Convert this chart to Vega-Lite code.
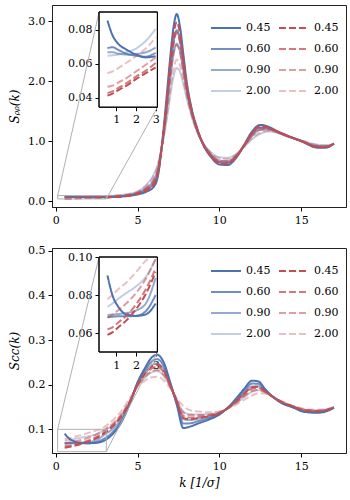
{
"$schema":"https://vega.github.io/schema/vega-lite/v6.json",
"padding":{"left":8,"top":4,"right":4,"bottom":4},
"config":{
 "font":"DejaVu Serif",
 "view":{"stroke":"#222","strokeWidth":1},
 "axis":{"grid":false,"labelFont":"DejaVu Serif","labelFontSize":11,"labelColor":"#000","tickColor":"#000","domainColor":"#222","tickSize":4,"labelPadding":3,"titleFont":"DejaVu Serif","titleFontSize":12,"titleFontWeight":"normal","titleColor":"#000","titleFontStyle":"italic"},
 "legend":{"labelFont":"DejaVu Serif","labelFontSize":11,"labelColor":"#000","symbolStrokeWidth":2,"symbolSize":900,"columnPadding":4,"rowPadding":0,"labelOffset":4,"symbolType":"stroke","padding":0}
},
"datasets":{
"rho":[
{"k":0.55,"v":0.0855,"s":"b0.45"},{"k":0.8,"v":0.077,"s":"b0.45"},{"k":1.1,"v":0.0718,"s":"b0.45"},{"k":1.5,"v":0.0685,"s":"b0.45"},{"k":2,"v":0.0655,"s":"b0.45"},{"k":2.5,"v":0.0638,"s":"b0.45"},{"k":3,"v":0.0645,"s":"b0.45"},{"k":3.5,"v":0.068,"s":"b0.45"},{"k":4,"v":0.075,"s":"b0.45"},{"k":4.5,"v":0.088,"s":"b0.45"},{"k":5,"v":0.11,"s":"b0.45"},{"k":5.5,"v":0.15,"s":"b0.45"},{"k":6,"v":0.24,"s":"b0.45"},{"k":6.25,"v":0.42,"s":"b0.45"},{"k":6.5,"v":0.95,"s":"b0.45"},{"k":6.75,"v":1.65,"s":"b0.45"},{"k":7,"v":2.4,"s":"b0.45"},{"k":7.2,"v":2.9,"s":"b0.45"},{"k":7.4,"v":3.12,"s":"b0.45"},{"k":7.6,"v":2.9,"s":"b0.45"},{"k":7.8,"v":2.45,"s":"b0.45"},{"k":8,"v":2.0,"s":"b0.45"},{"k":8.3,"v":1.55,"s":"b0.45"},{"k":8.6,"v":1.25,"s":"b0.45"},{"k":9,"v":0.95,"s":"b0.45"},{"k":9.5,"v":0.73,"s":"b0.45"},{"k":10,"v":0.61,"s":"b0.45"},{"k":10.5,"v":0.6,"s":"b0.45"},{"k":11,"v":0.71,"s":"b0.45"},{"k":11.5,"v":0.93,"s":"b0.45"},{"k":12,"v":1.16,"s":"b0.45"},{"k":12.5,"v":1.27,"s":"b0.45"},{"k":13,"v":1.24,"s":"b0.45"},{"k":13.5,"v":1.17,"s":"b0.45"},{"k":14,"v":1.11,"s":"b0.45"},{"k":15,"v":1.0,"s":"b0.45"},{"k":16,"v":0.89,"s":"b0.45"},{"k":16.5,"v":0.89,"s":"b0.45"},{"k":17,"v":0.96,"s":"b0.45"},
{"k":0.55,"v":0.0692,"s":"b0.60"},{"k":0.8,"v":0.0698,"s":"b0.60"},{"k":1.1,"v":0.0682,"s":"b0.60"},{"k":1.5,"v":0.066,"s":"b0.60"},{"k":2,"v":0.0648,"s":"b0.60"},{"k":2.5,"v":0.0642,"s":"b0.60"},{"k":3,"v":0.0665,"s":"b0.60"},{"k":3.5,"v":0.072,"s":"b0.60"},{"k":4,"v":0.08,"s":"b0.60"},{"k":4.5,"v":0.095,"s":"b0.60"},{"k":5,"v":0.125,"s":"b0.60"},{"k":5.5,"v":0.183,"s":"b0.60"},{"k":6,"v":0.303,"s":"b0.60"},{"k":6.25,"v":0.48,"s":"b0.60"},{"k":6.5,"v":0.94,"s":"b0.60"},{"k":6.75,"v":1.545,"s":"b0.60"},{"k":7,"v":2.205,"s":"b0.60"},{"k":7.2,"v":2.65,"s":"b0.60"},{"k":7.4,"v":2.85,"s":"b0.60"},{"k":7.6,"v":2.675,"s":"b0.60"},{"k":7.8,"v":2.3,"s":"b0.60"},{"k":8,"v":1.916,"s":"b0.60"},{"k":8.3,"v":1.51,"s":"b0.60"},{"k":8.6,"v":1.23,"s":"b0.60"},{"k":9,"v":0.956,"s":"b0.60"},{"k":9.5,"v":0.754,"s":"b0.60"},{"k":10,"v":0.646,"s":"b0.60"},{"k":10.5,"v":0.636,"s":"b0.60"},{"k":11,"v":0.731,"s":"b0.60"},{"k":11.5,"v":0.921,"s":"b0.60"},{"k":12,"v":1.121,"s":"b0.60"},{"k":12.5,"v":1.225,"s":"b0.60"},{"k":13,"v":1.216,"s":"b0.60"},{"k":13.5,"v":1.161,"s":"b0.60"},{"k":14,"v":1.104,"s":"b0.60"},{"k":15,"v":1.0,"s":"b0.60"},{"k":16,"v":0.905,"s":"b0.60"},{"k":16.5,"v":0.902,"s":"b0.60"},{"k":17,"v":0.957,"s":"b0.60"},
{"k":0.55,"v":0.0668,"s":"b0.90"},{"k":0.8,"v":0.0668,"s":"b0.90"},{"k":1.1,"v":0.066,"s":"b0.90"},{"k":1.5,"v":0.0655,"s":"b0.90"},{"k":2,"v":0.0658,"s":"b0.90"},{"k":2.5,"v":0.0668,"s":"b0.90"},{"k":3,"v":0.0695,"s":"b0.90"},{"k":3.5,"v":0.075,"s":"b0.90"},{"k":4,"v":0.085,"s":"b0.90"},{"k":4.5,"v":0.102,"s":"b0.90"},{"k":5,"v":0.137,"s":"b0.90"},{"k":5.5,"v":0.21,"s":"b0.90"},{"k":6,"v":0.356,"s":"b0.90"},{"k":6.25,"v":0.53,"s":"b0.90"},{"k":6.5,"v":0.935,"s":"b0.90"},{"k":6.75,"v":1.457,"s":"b0.90"},{"k":7,"v":2.04,"s":"b0.90"},{"k":7.2,"v":2.45,"s":"b0.90"},{"k":7.4,"v":2.625,"s":"b0.90"},{"k":7.6,"v":2.49,"s":"b0.90"},{"k":7.8,"v":2.175,"s":"b0.90"},{"k":8,"v":1.846,"s":"b0.90"},{"k":8.3,"v":1.48,"s":"b0.90"},{"k":8.6,"v":1.21,"s":"b0.90"},{"k":9,"v":0.961,"s":"b0.90"},{"k":9.5,"v":0.774,"s":"b0.90"},{"k":10,"v":0.676,"s":"b0.90"},{"k":10.5,"v":0.666,"s":"b0.90"},{"k":11,"v":0.749,"s":"b0.90"},{"k":11.5,"v":0.913,"s":"b0.90"},{"k":12,"v":1.088,"s":"b0.90"},{"k":12.5,"v":1.188,"s":"b0.90"},{"k":13,"v":1.196,"s":"b0.90"},{"k":13.5,"v":1.154,"s":"b0.90"},{"k":14,"v":1.099,"s":"b0.90"},{"k":15,"v":1.005,"s":"b0.90"},{"k":16,"v":0.918,"s":"b0.90"},{"k":16.5,"v":0.912,"s":"b0.90"},{"k":17,"v":0.955,"s":"b0.90"},
{"k":0.55,"v":0.0648,"s":"b2.00"},{"k":0.8,"v":0.065,"s":"b2.00"},{"k":1.1,"v":0.0655,"s":"b2.00"},{"k":1.5,"v":0.0668,"s":"b2.00"},{"k":2,"v":0.069,"s":"b2.00"},{"k":2.5,"v":0.0735,"s":"b2.00"},{"k":3,"v":0.0805,"s":"b2.00"},{"k":3.5,"v":0.088,"s":"b2.00"},{"k":4,"v":0.1,"s":"b2.00"},{"k":4.5,"v":0.12,"s":"b2.00"},{"k":5,"v":0.16,"s":"b2.00"},{"k":5.5,"v":0.26,"s":"b2.00"},{"k":6,"v":0.45,"s":"b2.00"},{"k":6.25,"v":0.62,"s":"b2.00"},{"k":6.5,"v":0.92,"s":"b2.00"},{"k":6.75,"v":1.3,"s":"b2.00"},{"k":7,"v":1.75,"s":"b2.00"},{"k":7.2,"v":2.08,"s":"b2.00"},{"k":7.4,"v":2.22,"s":"b2.00"},{"k":7.6,"v":2.15,"s":"b2.00"},{"k":7.8,"v":1.95,"s":"b2.00"},{"k":8,"v":1.72,"s":"b2.00"},{"k":8.3,"v":1.42,"s":"b2.00"},{"k":8.6,"v":1.18,"s":"b2.00"},{"k":9,"v":0.97,"s":"b2.00"},{"k":9.5,"v":0.81,"s":"b2.00"},{"k":10,"v":0.73,"s":"b2.00"},{"k":10.5,"v":0.72,"s":"b2.00"},{"k":11,"v":0.78,"s":"b2.00"},{"k":11.5,"v":0.9,"s":"b2.00"},{"k":12,"v":1.03,"s":"b2.00"},{"k":12.5,"v":1.12,"s":"b2.00"},{"k":13,"v":1.16,"s":"b2.00"},{"k":13.5,"v":1.14,"s":"b2.00"},{"k":14,"v":1.09,"s":"b2.00"},{"k":15,"v":1.01,"s":"b2.00"},{"k":16,"v":0.94,"s":"b2.00"},{"k":16.5,"v":0.93,"s":"b2.00"},{"k":17,"v":0.95,"s":"b2.00"},
{"k":0.55,"v":0.0413,"s":"r0.45"},{"k":0.8,"v":0.0425,"s":"r0.45"},{"k":1.1,"v":0.0445,"s":"r0.45"},{"k":1.5,"v":0.047,"s":"r0.45"},{"k":2,"v":0.051,"s":"r0.45"},{"k":2.5,"v":0.0545,"s":"r0.45"},{"k":3,"v":0.0578,"s":"r0.45"},{"k":3.5,"v":0.065,"s":"r0.45"},{"k":4,"v":0.073,"s":"r0.45"},{"k":4.5,"v":0.087,"s":"r0.45"},{"k":5,"v":0.118,"s":"r0.45"},{"k":5.5,"v":0.167,"s":"r0.45"},{"k":6,"v":0.27,"s":"r0.45"},{"k":6.25,"v":0.45,"s":"r0.45"},{"k":6.5,"v":0.945,"s":"r0.45"},{"k":6.75,"v":1.598,"s":"r0.45"},{"k":7,"v":2.3,"s":"r0.45"},{"k":7.2,"v":2.78,"s":"r0.45"},{"k":7.4,"v":2.985,"s":"r0.45"},{"k":7.6,"v":2.79,"s":"r0.45"},{"k":7.8,"v":2.375,"s":"r0.45"},{"k":8,"v":1.958,"s":"r0.45"},{"k":8.3,"v":1.53,"s":"r0.45"},{"k":8.6,"v":1.24,"s":"r0.45"},{"k":9,"v":0.953,"s":"r0.45"},{"k":9.5,"v":0.742,"s":"r0.45"},{"k":10,"v":0.628,"s":"r0.45"},{"k":10.5,"v":0.618,"s":"r0.45"},{"k":11,"v":0.72,"s":"r0.45"},{"k":11.5,"v":0.925,"s":"r0.45"},{"k":12,"v":1.14,"s":"r0.45"},{"k":12.5,"v":1.248,"s":"r0.45"},{"k":13,"v":1.228,"s":"r0.45"},{"k":13.5,"v":1.166,"s":"r0.45"},{"k":14,"v":1.107,"s":"r0.45"},{"k":15,"v":1.0,"s":"r0.45"},{"k":16,"v":0.898,"s":"r0.45"},{"k":16.5,"v":0.896,"s":"r0.45"},{"k":17,"v":0.96,"s":"r0.45"},
{"k":0.55,"v":0.0428,"s":"r0.60"},{"k":0.8,"v":0.0438,"s":"r0.60"},{"k":1.1,"v":0.0458,"s":"r0.60"},{"k":1.5,"v":0.0485,"s":"r0.60"},{"k":2,"v":0.0525,"s":"r0.60"},{"k":2.5,"v":0.056,"s":"r0.60"},{"k":3,"v":0.0605,"s":"r0.60"},{"k":3.5,"v":0.067,"s":"r0.60"},{"k":4,"v":0.076,"s":"r0.60"},{"k":4.5,"v":0.092,"s":"r0.60"},{"k":5,"v":0.128,"s":"r0.60"},{"k":5.5,"v":0.19,"s":"r0.60"},{"k":6,"v":0.31,"s":"r0.60"},{"k":6.25,"v":0.49,"s":"r0.60"},{"k":6.5,"v":0.94,"s":"r0.60"},{"k":6.75,"v":1.528,"s":"r0.60"},{"k":7,"v":2.17,"s":"r0.60"},{"k":7.2,"v":2.61,"s":"r0.60"},{"k":7.4,"v":2.805,"s":"r0.60"},{"k":7.6,"v":2.64,"s":"r0.60"},{"k":7.8,"v":2.275,"s":"r0.60"},{"k":8,"v":1.902,"s":"r0.60"},{"k":8.3,"v":1.505,"s":"r0.60"},{"k":8.6,"v":1.225,"s":"r0.60"},{"k":9,"v":0.957,"s":"r0.60"},{"k":9.5,"v":0.758,"s":"r0.60"},{"k":10,"v":0.652,"s":"r0.60"},{"k":10.5,"v":0.642,"s":"r0.60"},{"k":11,"v":0.735,"s":"r0.60"},{"k":11.5,"v":0.92,"s":"r0.60"},{"k":12,"v":1.115,"s":"r0.60"},{"k":12.5,"v":1.218,"s":"r0.60"},{"k":13,"v":1.212,"s":"r0.60"},{"k":13.5,"v":1.16,"s":"r0.60"},{"k":14,"v":1.103,"s":"r0.60"},{"k":15,"v":1.0,"s":"r0.60"},{"k":16,"v":0.908,"s":"r0.60"},{"k":16.5,"v":0.904,"s":"r0.60"},{"k":17,"v":0.957,"s":"r0.60"},
{"k":0.55,"v":0.0465,"s":"r0.90"},{"k":0.8,"v":0.0472,"s":"r0.90"},{"k":1.1,"v":0.049,"s":"r0.90"},{"k":1.5,"v":0.0515,"s":"r0.90"},{"k":2,"v":0.0555,"s":"r0.90"},{"k":2.5,"v":0.0595,"s":"r0.90"},{"k":3,"v":0.0638,"s":"r0.90"},{"k":3.5,"v":0.071,"s":"r0.90"},{"k":4,"v":0.082,"s":"r0.90"},{"k":4.5,"v":0.1,"s":"r0.90"},{"k":5,"v":0.137,"s":"r0.90"},{"k":5.5,"v":0.21,"s":"r0.90"},{"k":6,"v":0.356,"s":"r0.90"},{"k":6.25,"v":0.53,"s":"r0.90"},{"k":6.5,"v":0.935,"s":"r0.90"},{"k":6.75,"v":1.46,"s":"r0.90"},{"k":7,"v":2.06,"s":"r0.90"},{"k":7.2,"v":2.47,"s":"r0.90"},{"k":7.4,"v":2.6,"s":"r0.90"},{"k":7.6,"v":2.47,"s":"r0.90"},{"k":7.8,"v":2.16,"s":"r0.90"},{"k":8,"v":1.84,"s":"r0.90"},{"k":8.3,"v":1.475,"s":"r0.90"},{"k":8.6,"v":1.21,"s":"r0.90"},{"k":9,"v":0.96,"s":"r0.90"},{"k":9.5,"v":0.77,"s":"r0.90"},{"k":10,"v":0.672,"s":"r0.90"},{"k":10.5,"v":0.663,"s":"r0.90"},{"k":11,"v":0.745,"s":"r0.90"},{"k":11.5,"v":0.912,"s":"r0.90"},{"k":12,"v":1.09,"s":"r0.90"},{"k":12.5,"v":1.19,"s":"r0.90"},{"k":13,"v":1.195,"s":"r0.90"},{"k":13.5,"v":1.155,"s":"r0.90"},{"k":14,"v":1.1,"s":"r0.90"},{"k":15,"v":1.002,"s":"r0.90"},{"k":16,"v":0.91,"s":"r0.90"},{"k":16.5,"v":0.905,"s":"r0.90"},{"k":17,"v":0.95,"s":"r0.90"},
{"k":0.55,"v":0.0545,"s":"r2.00"},{"k":0.8,"v":0.0555,"s":"r2.00"},{"k":1.1,"v":0.0575,"s":"r2.00"},{"k":1.5,"v":0.0605,"s":"r2.00"},{"k":2,"v":0.0645,"s":"r2.00"},{"k":2.5,"v":0.069,"s":"r2.00"},{"k":3,"v":0.0755,"s":"r2.00"},{"k":3.5,"v":0.085,"s":"r2.00"},{"k":4,"v":0.097,"s":"r2.00"},{"k":4.5,"v":0.116,"s":"r2.00"},{"k":5,"v":0.152,"s":"r2.00"},{"k":5.5,"v":0.243,"s":"r2.00"},{"k":6,"v":0.42,"s":"r2.00"},{"k":6.25,"v":0.59,"s":"r2.00"},{"k":6.5,"v":0.925,"s":"r2.00"},{"k":6.75,"v":1.35,"s":"r2.00"},{"k":7,"v":1.85,"s":"r2.00"},{"k":7.2,"v":2.2,"s":"r2.00"},{"k":7.4,"v":2.355,"s":"r2.00"},{"k":7.6,"v":2.26,"s":"r2.00"},{"k":7.8,"v":2.025,"s":"r2.00"},{"k":8,"v":1.762,"s":"r2.00"},{"k":8.3,"v":1.44,"s":"r2.00"},{"k":8.6,"v":1.19,"s":"r2.00"},{"k":9,"v":0.967,"s":"r2.00"},{"k":9.5,"v":0.798,"s":"r2.00"},{"k":10,"v":0.712,"s":"r2.00"},{"k":10.5,"v":0.702,"s":"r2.00"},{"k":11,"v":0.77,"s":"r2.00"},{"k":11.5,"v":0.905,"s":"r2.00"},{"k":12,"v":1.05,"s":"r2.00"},{"k":12.5,"v":1.143,"s":"r2.00"},{"k":13,"v":1.172,"s":"r2.00"},{"k":13.5,"v":1.145,"s":"r2.00"},{"k":14,"v":1.093,"s":"r2.00"},{"k":15,"v":1.008,"s":"r2.00"},{"k":16,"v":0.933,"s":"r2.00"},{"k":16.5,"v":0.924,"s":"r2.00"},{"k":17,"v":0.952,"s":"r2.00"}
],
"cc":[
{"k":0.55,"v":0.0903,"s":"b0.45"},{"k":0.8,"v":0.08,"s":"b0.45"},{"k":1.1,"v":0.0738,"s":"b0.45"},{"k":1.5,"v":0.0698,"s":"b0.45"},{"k":2,"v":0.069,"s":"b0.45"},{"k":2.5,"v":0.0698,"s":"b0.45"},{"k":3,"v":0.0755,"s":"b0.45"},{"k":3.5,"v":0.09,"s":"b0.45"},{"k":4,"v":0.115,"s":"b0.45"},{"k":4.5,"v":0.155,"s":"b0.45"},{"k":5,"v":0.205,"s":"b0.45"},{"k":5.5,"v":0.24,"s":"b0.45"},{"k":5.8,"v":0.258,"s":"b0.45"},{"k":6.2,"v":0.267,"s":"b0.45"},{"k":6.6,"v":0.25,"s":"b0.45"},{"k":7,"v":0.205,"s":"b0.45"},{"k":7.4,"v":0.155,"s":"b0.45"},{"k":7.8,"v":0.103,"s":"b0.45"},{"k":8.2,"v":0.106,"s":"b0.45"},{"k":8.7,"v":0.113,"s":"b0.45"},{"k":9.3,"v":0.121,"s":"b0.45"},{"k":10,"v":0.133,"s":"b0.45"},{"k":10.5,"v":0.148,"s":"b0.45"},{"k":11,"v":0.168,"s":"b0.45"},{"k":11.5,"v":0.19,"s":"b0.45"},{"k":12,"v":0.209,"s":"b0.45"},{"k":12.4,"v":0.207,"s":"b0.45"},{"k":12.8,"v":0.19,"s":"b0.45"},{"k":13.3,"v":0.172,"s":"b0.45"},{"k":13.8,"v":0.159,"s":"b0.45"},{"k":14.5,"v":0.149,"s":"b0.45"},{"k":15.2,"v":0.139,"s":"b0.45"},{"k":16,"v":0.137,"s":"b0.45"},{"k":16.5,"v":0.14,"s":"b0.45"},{"k":17,"v":0.148,"s":"b0.45"},
{"k":0.55,"v":0.0684,"s":"b0.60"},{"k":0.8,"v":0.0686,"s":"b0.60"},{"k":1.1,"v":0.0688,"s":"b0.60"},{"k":1.5,"v":0.0688,"s":"b0.60"},{"k":2,"v":0.069,"s":"b0.60"},{"k":2.5,"v":0.0715,"s":"b0.60"},{"k":3,"v":0.08,"s":"b0.60"},{"k":3.5,"v":0.094,"s":"b0.60"},{"k":4,"v":0.118,"s":"b0.60"},{"k":4.5,"v":0.156,"s":"b0.60"},{"k":5,"v":0.203,"s":"b0.60"},{"k":5.5,"v":0.234,"s":"b0.60"},{"k":5.8,"v":0.2496,"s":"b0.60"},{"k":6.2,"v":0.2572,"s":"b0.60"},{"k":6.6,"v":0.242,"s":"b0.60"},{"k":7,"v":0.2024,"s":"b0.60"},{"k":7.4,"v":0.158,"s":"b0.60"},{"k":7.8,"v":0.1128,"s":"b0.60"},{"k":8.2,"v":0.1134,"s":"b0.60"},{"k":8.7,"v":0.1184,"s":"b0.60"},{"k":9.3,"v":0.1244,"s":"b0.60"},{"k":10,"v":0.1344,"s":"b0.60"},{"k":10.5,"v":0.1476,"s":"b0.60"},{"k":11,"v":0.1654,"s":"b0.60"},{"k":11.5,"v":0.1852,"s":"b0.60"},{"k":12,"v":0.2024,"s":"b0.60"},{"k":12.4,"v":0.2018,"s":"b0.60"},{"k":12.8,"v":0.188,"s":"b0.60"},{"k":13.3,"v":0.172,"s":"b0.60"},{"k":13.8,"v":0.1598,"s":"b0.60"},{"k":14.5,"v":0.1498,"s":"b0.60"},{"k":15.2,"v":0.1404,"s":"b0.60"},{"k":16,"v":0.1384,"s":"b0.60"},{"k":16.5,"v":0.141,"s":"b0.60"},{"k":17,"v":0.1485,"s":"b0.60"},
{"k":0.55,"v":0.0695,"s":"b0.90"},{"k":0.8,"v":0.0697,"s":"b0.90"},{"k":1.1,"v":0.07,"s":"b0.90"},{"k":1.5,"v":0.0705,"s":"b0.90"},{"k":2,"v":0.0718,"s":"b0.90"},{"k":2.5,"v":0.0755,"s":"b0.90"},{"k":3,"v":0.089,"s":"b0.90"},{"k":3.5,"v":0.101,"s":"b0.90"},{"k":4,"v":0.123,"s":"b0.90"},{"k":4.5,"v":0.157,"s":"b0.90"},{"k":5,"v":0.201,"s":"b0.90"},{"k":5.5,"v":0.228,"s":"b0.90"},{"k":5.8,"v":0.2412,"s":"b0.90"},{"k":6.2,"v":0.2474,"s":"b0.90"},{"k":6.6,"v":0.234,"s":"b0.90"},{"k":7,"v":0.1998,"s":"b0.90"},{"k":7.4,"v":0.161,"s":"b0.90"},{"k":7.8,"v":0.1226,"s":"b0.90"},{"k":8.2,"v":0.1208,"s":"b0.90"},{"k":8.7,"v":0.1238,"s":"b0.90"},{"k":9.3,"v":0.1278,"s":"b0.90"},{"k":10,"v":0.1358,"s":"b0.90"},{"k":10.5,"v":0.1472,"s":"b0.90"},{"k":11,"v":0.1628,"s":"b0.90"},{"k":11.5,"v":0.1804,"s":"b0.90"},{"k":12,"v":0.1958,"s":"b0.90"},{"k":12.4,"v":0.1966,"s":"b0.90"},{"k":12.8,"v":0.186,"s":"b0.90"},{"k":13.3,"v":0.172,"s":"b0.90"},{"k":13.8,"v":0.1606,"s":"b0.90"},{"k":14.5,"v":0.1506,"s":"b0.90"},{"k":15.2,"v":0.1418,"s":"b0.90"},{"k":16,"v":0.1398,"s":"b0.90"},{"k":16.5,"v":0.142,"s":"b0.90"},{"k":17,"v":0.1488,"s":"b0.90"},
{"k":0.55,"v":0.0738,"s":"b2.00"},{"k":0.8,"v":0.0755,"s":"b2.00"},{"k":1.1,"v":0.078,"s":"b2.00"},{"k":1.5,"v":0.081,"s":"b2.00"},{"k":2,"v":0.0845,"s":"b2.00"},{"k":2.5,"v":0.0895,"s":"b2.00"},{"k":3,"v":0.099,"s":"b2.00"},{"k":3.5,"v":0.11,"s":"b2.00"},{"k":4,"v":0.13,"s":"b2.00"},{"k":4.5,"v":0.16,"s":"b2.00"},{"k":5,"v":0.1975,"s":"b2.00"},{"k":5.5,"v":0.2175,"s":"b2.00"},{"k":5.8,"v":0.2265,"s":"b2.00"},{"k":6.2,"v":0.2303,"s":"b2.00"},{"k":6.6,"v":0.22,"s":"b2.00"},{"k":7,"v":0.1953,"s":"b2.00"},{"k":7.4,"v":0.1663,"s":"b2.00"},{"k":7.8,"v":0.1398,"s":"b2.00"},{"k":8.2,"v":0.1338,"s":"b2.00"},{"k":8.7,"v":0.1333,"s":"b2.00"},{"k":9.3,"v":0.1338,"s":"b2.00"},{"k":10,"v":0.1383,"s":"b2.00"},{"k":10.5,"v":0.1465,"s":"b2.00"},{"k":11,"v":0.1583,"s":"b2.00"},{"k":11.5,"v":0.172,"s":"b2.00"},{"k":12,"v":0.1843,"s":"b2.00"},{"k":12.4,"v":0.1875,"s":"b2.00"},{"k":12.8,"v":0.1825,"s":"b2.00"},{"k":13.3,"v":0.172,"s":"b2.00"},{"k":13.8,"v":0.162,"s":"b2.00"},{"k":14.5,"v":0.152,"s":"b2.00"},{"k":15.2,"v":0.1443,"s":"b2.00"},{"k":16,"v":0.1423,"s":"b2.00"},{"k":16.5,"v":0.1438,"s":"b2.00"},{"k":17,"v":0.1495,"s":"b2.00"},
{"k":0.55,"v":0.059,"s":"r0.45"},{"k":0.8,"v":0.0603,"s":"r0.45"},{"k":1.1,"v":0.063,"s":"r0.45"},{"k":1.5,"v":0.0665,"s":"r0.45"},{"k":2,"v":0.0725,"s":"r0.45"},{"k":2.5,"v":0.0805,"s":"r0.45"},{"k":3,"v":0.092,"s":"r0.45"},{"k":3.5,"v":0.107,"s":"r0.45"},{"k":4,"v":0.128,"s":"r0.45"},{"k":4.5,"v":0.158,"s":"r0.45"},{"k":5,"v":0.2005,"s":"r0.45"},{"k":5.5,"v":0.2265,"s":"r0.45"},{"k":5.8,"v":0.2391,"s":"r0.45"},{"k":6.2,"v":0.245,"s":"r0.45"},{"k":6.6,"v":0.232,"s":"r0.45"},{"k":7,"v":0.1992,"s":"r0.45"},{"k":7.4,"v":0.1618,"s":"r0.45"},{"k":7.8,"v":0.125,"s":"r0.45"},{"k":8.2,"v":0.1227,"s":"r0.45"},{"k":8.7,"v":0.1252,"s":"r0.45"},{"k":9.3,"v":0.1287,"s":"r0.45"},{"k":10,"v":0.1362,"s":"r0.45"},{"k":10.5,"v":0.1471,"s":"r0.45"},{"k":11,"v":0.1622,"s":"r0.45"},{"k":11.5,"v":0.1792,"s":"r0.45"},{"k":12,"v":0.1942,"s":"r0.45"},{"k":12.4,"v":0.1953,"s":"r0.45"},{"k":12.8,"v":0.1855,"s":"r0.45"},{"k":13.3,"v":0.172,"s":"r0.45"},{"k":13.8,"v":0.1608,"s":"r0.45"},{"k":14.5,"v":0.1508,"s":"r0.45"},{"k":15.2,"v":0.1422,"s":"r0.45"},{"k":16,"v":0.1402,"s":"r0.45"},{"k":16.5,"v":0.1423,"s":"r0.45"},{"k":17,"v":0.1489,"s":"r0.45"},
{"k":0.55,"v":0.0619,"s":"r0.60"},{"k":0.8,"v":0.063,"s":"r0.60"},{"k":1.1,"v":0.0655,"s":"r0.60"},{"k":1.5,"v":0.069,"s":"r0.60"},{"k":2,"v":0.075,"s":"r0.60"},{"k":2.5,"v":0.083,"s":"r0.60"},{"k":3,"v":0.094,"s":"r0.60"},{"k":3.5,"v":0.109,"s":"r0.60"},{"k":4,"v":0.13,"s":"r0.60"},{"k":4.5,"v":0.16,"s":"r0.60"},{"k":5,"v":0.1995,"s":"r0.60"},{"k":5.5,"v":0.2235,"s":"r0.60"},{"k":5.8,"v":0.2349,"s":"r0.60"},{"k":6.2,"v":0.24,"s":"r0.60"},{"k":6.6,"v":0.228,"s":"r0.60"},{"k":7,"v":0.1979,"s":"r0.60"},{"k":7.4,"v":0.1633,"s":"r0.60"},{"k":7.8,"v":0.13,"s":"r0.60"},{"k":8.2,"v":0.1264,"s":"r0.60"},{"k":8.7,"v":0.1279,"s":"r0.60"},{"k":9.3,"v":0.1304,"s":"r0.60"},{"k":10,"v":0.1369,"s":"r0.60"},{"k":10.5,"v":0.1469,"s":"r0.60"},{"k":11,"v":0.1609,"s":"r0.60"},{"k":11.5,"v":0.1768,"s":"r0.60"},{"k":12,"v":0.1909,"s":"r0.60"},{"k":12.4,"v":0.1927,"s":"r0.60"},{"k":12.8,"v":0.1845,"s":"r0.60"},{"k":13.3,"v":0.172,"s":"r0.60"},{"k":13.8,"v":0.1612,"s":"r0.60"},{"k":14.5,"v":0.1512,"s":"r0.60"},{"k":15.2,"v":0.1429,"s":"r0.60"},{"k":16,"v":0.1409,"s":"r0.60"},{"k":16.5,"v":0.1428,"s":"r0.60"},{"k":17,"v":0.1491,"s":"r0.60"},
{"k":0.55,"v":0.068,"s":"r0.90"},{"k":0.8,"v":0.0695,"s":"r0.90"},{"k":1.1,"v":0.072,"s":"r0.90"},{"k":1.5,"v":0.0755,"s":"r0.90"},{"k":2,"v":0.081,"s":"r0.90"},{"k":2.5,"v":0.0885,"s":"r0.90"},{"k":3,"v":0.099,"s":"r0.90"},{"k":3.5,"v":0.113,"s":"r0.90"},{"k":4,"v":0.133,"s":"r0.90"},{"k":4.5,"v":0.162,"s":"r0.90"},{"k":5,"v":0.198,"s":"r0.90"},{"k":5.5,"v":0.219,"s":"r0.90"},{"k":5.8,"v":0.2286,"s":"r0.90"},{"k":6.2,"v":0.2327,"s":"r0.90"},{"k":6.6,"v":0.222,"s":"r0.90"},{"k":7,"v":0.1959,"s":"r0.90"},{"k":7.4,"v":0.1655,"s":"r0.90"},{"k":7.8,"v":0.1373,"s":"r0.90"},{"k":8.2,"v":0.1319,"s":"r0.90"},{"k":8.7,"v":0.1319,"s":"r0.90"},{"k":9.3,"v":0.1329,"s":"r0.90"},{"k":10,"v":0.1379,"s":"r0.90"},{"k":10.5,"v":0.1466,"s":"r0.90"},{"k":11,"v":0.1589,"s":"r0.90"},{"k":11.5,"v":0.1732,"s":"r0.90"},{"k":12,"v":0.1859,"s":"r0.90"},{"k":12.4,"v":0.1888,"s":"r0.90"},{"k":12.8,"v":0.183,"s":"r0.90"},{"k":13.3,"v":0.172,"s":"r0.90"},{"k":13.8,"v":0.1618,"s":"r0.90"},{"k":14.5,"v":0.1518,"s":"r0.90"},{"k":15.2,"v":0.1439,"s":"r0.90"},{"k":16,"v":0.1419,"s":"r0.90"},{"k":16.5,"v":0.1435,"s":"r0.90"},{"k":17,"v":0.1494,"s":"r0.90"},
{"k":0.55,"v":0.0777,"s":"r2.00"},{"k":0.8,"v":0.08,"s":"r2.00"},{"k":1.1,"v":0.083,"s":"r2.00"},{"k":1.5,"v":0.0865,"s":"r2.00"},{"k":2,"v":0.092,"s":"r2.00"},{"k":2.5,"v":0.098,"s":"r2.00"},{"k":2.75,"v":0.1,"s":"r2.00"},{"k":3,"v":0.106,"s":"r2.00"},{"k":3.5,"v":0.121,"s":"r2.00"},{"k":4,"v":0.14,"s":"r2.00"},{"k":4.5,"v":0.168,"s":"r2.00"},{"k":5,"v":0.195,"s":"r2.00"},{"k":5.5,"v":0.21,"s":"r2.00"},{"k":5.8,"v":0.216,"s":"r2.00"},{"k":6.2,"v":0.218,"s":"r2.00"},{"k":6.6,"v":0.21,"s":"r2.00"},{"k":7,"v":0.192,"s":"r2.00"},{"k":7.4,"v":0.17,"s":"r2.00"},{"k":7.8,"v":0.152,"s":"r2.00"},{"k":8.2,"v":0.143,"s":"r2.00"},{"k":8.7,"v":0.14,"s":"r2.00"},{"k":9.3,"v":0.138,"s":"r2.00"},{"k":10,"v":0.14,"s":"r2.00"},{"k":10.5,"v":0.146,"s":"r2.00"},{"k":11,"v":0.155,"s":"r2.00"},{"k":11.5,"v":0.166,"s":"r2.00"},{"k":12,"v":0.176,"s":"r2.00"},{"k":12.4,"v":0.181,"s":"r2.00"},{"k":12.8,"v":0.18,"s":"r2.00"},{"k":13.3,"v":0.172,"s":"r2.00"},{"k":13.8,"v":0.163,"s":"r2.00"},{"k":14.5,"v":0.153,"s":"r2.00"},{"k":15.2,"v":0.146,"s":"r2.00"},{"k":16,"v":0.144,"s":"r2.00"},{"k":16.5,"v":0.145,"s":"r2.00"},{"k":17,"v":0.15,"s":"r2.00"}
]
},
"spacing":18,
"resolve":{"scale":{"color":"independent","strokeDash":"independent"}},
"vconcat":[
{
 "width":294,"height":202,
 "resolve":{"scale":{"x":"independent","y":"independent"}},
 "layer":[
  {"layer":[
   {"data":{"name":"rho"},"mark":{"type":"line","strokeWidth":2,"interpolate":"monotone"},
    "encoding":{
     "x":{"field":"k","type":"quantitative","scale":{"domain":[-0.226,17.74],"nice":false,"zero":false},"axis":{"values":[0,5,10,15],"title":null}},
     "y":{"field":"v","type":"quantitative","scale":{"domain":[-0.1,3.27],"nice":false,"zero":false},"axis":{"values":[0,0.5,1,1.5,2,2.5,3],"format":".1f","title":"Sᵨᵨ(k)","titlePadding":6}},
     "color":{"field":"s","type":"nominal","scale":{"domain":["b0.45","b0.60","b0.90","b2.00","r0.45","r0.60","r0.90","r2.00"],"range":["rgba(76,114,176,1)","rgba(76,114,176,0.8)","rgba(76,114,176,0.6)","rgba(76,114,176,0.35)","rgba(196,78,82,1)","rgba(196,78,82,0.75)","rgba(196,78,82,0.55)","rgba(196,78,82,0.35)"]},"legend":{"title":null,"columns":2,"orient":"top-right","offset":7,"labelExpr":"substring(datum.label, 1)"}},
     "strokeDash":{"field":"s","type":"nominal","scale":{"domain":["b0.45","b0.60","b0.90","b2.00","r0.45","r0.60","r0.90","r2.00"],"range":[[1,0],[1,0],[1,0],[1,0],[7,3],[7,3],[7,3],[7,3]]},"legend":{"title":null,"columns":2,"orient":"top-right","offset":7,"labelExpr":"substring(datum.label, 1)"}}
    }},
   {"data":{"values":[{}]},"mark":{"type":"rect","fillOpacity":0,"stroke":"#b0b0b0","strokeWidth":1},
    "encoding":{"x":{"datum":0.12,"type":"quantitative","scale":{"domain":[-0.226,17.74],"nice":false,"zero":false}},"x2":{"datum":3.09},"y":{"datum":0.0345,"type":"quantitative","scale":{"domain":[-0.1,3.27],"nice":false,"zero":false}},"y2":{"datum":0.0905}}},
   {"data":{"values":[{}]},"mark":{"type":"rule","stroke":"#b0b0b0","strokeWidth":1},
    "encoding":{"x":{"datum":0.12,"type":"quantitative"},"y":{"datum":0.0905,"type":"quantitative"},"x2":{"datum":2.65},"y2":{"datum":3.153}}},
   {"data":{"values":[{}]},"mark":{"type":"rule","stroke":"#b0b0b0","strokeWidth":1},
    "encoding":{"x":{"datum":3.09,"type":"quantitative"},"y":{"datum":0.0345,"type":"quantitative"},"x2":{"datum":6.22},"y2":{"datum":1.564}}}
  ]},
  {"layer":[
   {"data":{"values":[{}]},"mark":{"type":"rect","fill":"white","stroke":"#000","strokeWidth":1},
    "encoding":{
     "x":{"datum":0.12,"type":"quantitative","scale":{"domain":[0.12,3.09],"range":[47,105.4],"nice":false,"zero":false},"axis":{"orient":"bottom","offset":-100.3,"values":[1,2,3],"format":"d","title":null,"domain":false}},
     "x2":{"datum":3.09},
     "y":{"datum":0.0345,"type":"quantitative","scale":{"domain":[0.0345,0.0905],"range":[102.2,7],"nice":false,"zero":false},"axis":{"orient":"left","offset":-47,"values":[0.04,0.06,0.08],"format":".2f","title":null,"domain":false}},
     "y2":{"datum":0.0905}}},
   {"data":{"name":"rho"},"transform":[{"filter":"datum.k <= 3.1"}],"mark":{"type":"line","strokeWidth":2,"interpolate":"monotone"},
    "encoding":{
     "x":{"field":"k","type":"quantitative"},
     "y":{"field":"v","type":"quantitative"},
     "color":{"field":"s","type":"nominal"},
     "strokeDash":{"field":"s","type":"nominal"}}},
   {"data":{"values":[{}]},"mark":{"type":"rect","fillOpacity":0,"stroke":"#000","strokeWidth":1},
    "encoding":{"x":{"datum":0.12,"type":"quantitative"},"x2":{"datum":3.09},"y":{"datum":0.0345,"type":"quantitative"},"y2":{"datum":0.0905}}}
  ]}
 ]
},
{
 "width":294,"height":205,
 "resolve":{"scale":{"x":"independent","y":"independent"}},
 "layer":[
  {"layer":[
   {"data":{"name":"cc"},"mark":{"type":"line","strokeWidth":2,"interpolate":"monotone"},
    "encoding":{
     "x":{"field":"k","type":"quantitative","scale":{"domain":[-0.226,17.74],"nice":false,"zero":false},"axis":{"values":[0,5,10,15],"title":"k [1/σ]","titlePadding":6}},
     "y":{"field":"v","type":"quantitative","scale":{"domain":[0.047,0.506],"nice":false,"zero":false},"axis":{"values":[0.1,0.2,0.3,0.4,0.5],"format":".1f","title":"Scc(k)","titlePadding":6}},
     "color":{"field":"s","type":"nominal","scale":{"domain":["b0.45","b0.60","b0.90","b2.00","r0.45","r0.60","r0.90","r2.00"],"range":["rgba(76,114,176,1)","rgba(76,114,176,0.8)","rgba(76,114,176,0.6)","rgba(76,114,176,0.35)","rgba(196,78,82,1)","rgba(196,78,82,0.75)","rgba(196,78,82,0.55)","rgba(196,78,82,0.35)"]},"legend":{"title":null,"columns":2,"orient":"top-right","offset":7,"labelExpr":"substring(datum.label, 1)"}},
     "strokeDash":{"field":"s","type":"nominal","scale":{"domain":["b0.45","b0.60","b0.90","b2.00","r0.45","r0.60","r0.90","r2.00"],"range":[[1,0],[1,0],[1,0],[1,0],[7,3],[7,3],[7,3],[7,3]]},"legend":{"title":null,"columns":2,"orient":"top-right","offset":7,"labelExpr":"substring(datum.label, 1)"}}
    }},
   {"data":{"values":[{}]},"mark":{"type":"rect","fillOpacity":0,"stroke":"#b0b0b0","strokeWidth":1},
    "encoding":{"x":{"datum":0.12,"type":"quantitative","scale":{"domain":[-0.226,17.74],"nice":false,"zero":false}},"x2":{"datum":3.09},"y":{"datum":0.05,"type":"quantitative","scale":{"domain":[0.047,0.506],"nice":false,"zero":false}},"y2":{"datum":0.1}}},
   {"data":{"values":[{}]},"mark":{"type":"rule","stroke":"#b0b0b0","strokeWidth":1},
    "encoding":{"x":{"datum":0.12,"type":"quantitative"},"y":{"datum":0.1,"type":"quantitative"},"x2":{"datum":2.65},"y2":{"datum":0.486}}},
   {"data":{"values":[{}]},"mark":{"type":"rule","stroke":"#b0b0b0","strokeWidth":1},
    "encoding":{"x":{"datum":3.09,"type":"quantitative"},"y":{"datum":0.05,"type":"quantitative"},"x2":{"datum":6.22},"y2":{"datum":0.273}}}
  ]},
  {"layer":[
   {"data":{"values":[{}]},"mark":{"type":"rect","fill":"white","stroke":"#000","strokeWidth":1},
    "encoding":{
     "x":{"datum":0.12,"type":"quantitative","scale":{"domain":[0.12,3.09],"range":[47,105.4],"nice":false,"zero":false},"axis":{"orient":"bottom","offset":-101,"values":[1,2,3],"format":"d","title":null,"domain":false}},
     "x2":{"datum":3.09},
     "y":{"datum":0.05,"type":"quantitative","scale":{"domain":[0.05,0.1],"range":[104,9],"nice":false,"zero":false},"axis":{"orient":"left","offset":-47,"values":[0.06,0.08,0.1],"format":".2f","title":null,"domain":false}},
     "y2":{"datum":0.1}}},
   {"data":{"name":"cc"},"transform":[{"filter":"datum.k <= 3.1 && datum.v <= 0.1"}],"mark":{"type":"line","strokeWidth":2,"interpolate":"monotone"},
    "encoding":{
     "x":{"field":"k","type":"quantitative"},
     "y":{"field":"v","type":"quantitative"},
     "color":{"field":"s","type":"nominal"},
     "strokeDash":{"field":"s","type":"nominal"}}},
   {"data":{"values":[{}]},"mark":{"type":"rect","fillOpacity":0,"stroke":"#000","strokeWidth":1},
    "encoding":{"x":{"datum":0.12,"type":"quantitative"},"x2":{"datum":3.09},"y":{"datum":0.05,"type":"quantitative"},"y2":{"datum":0.1}}}
  ]}
 ]
}
]
}
